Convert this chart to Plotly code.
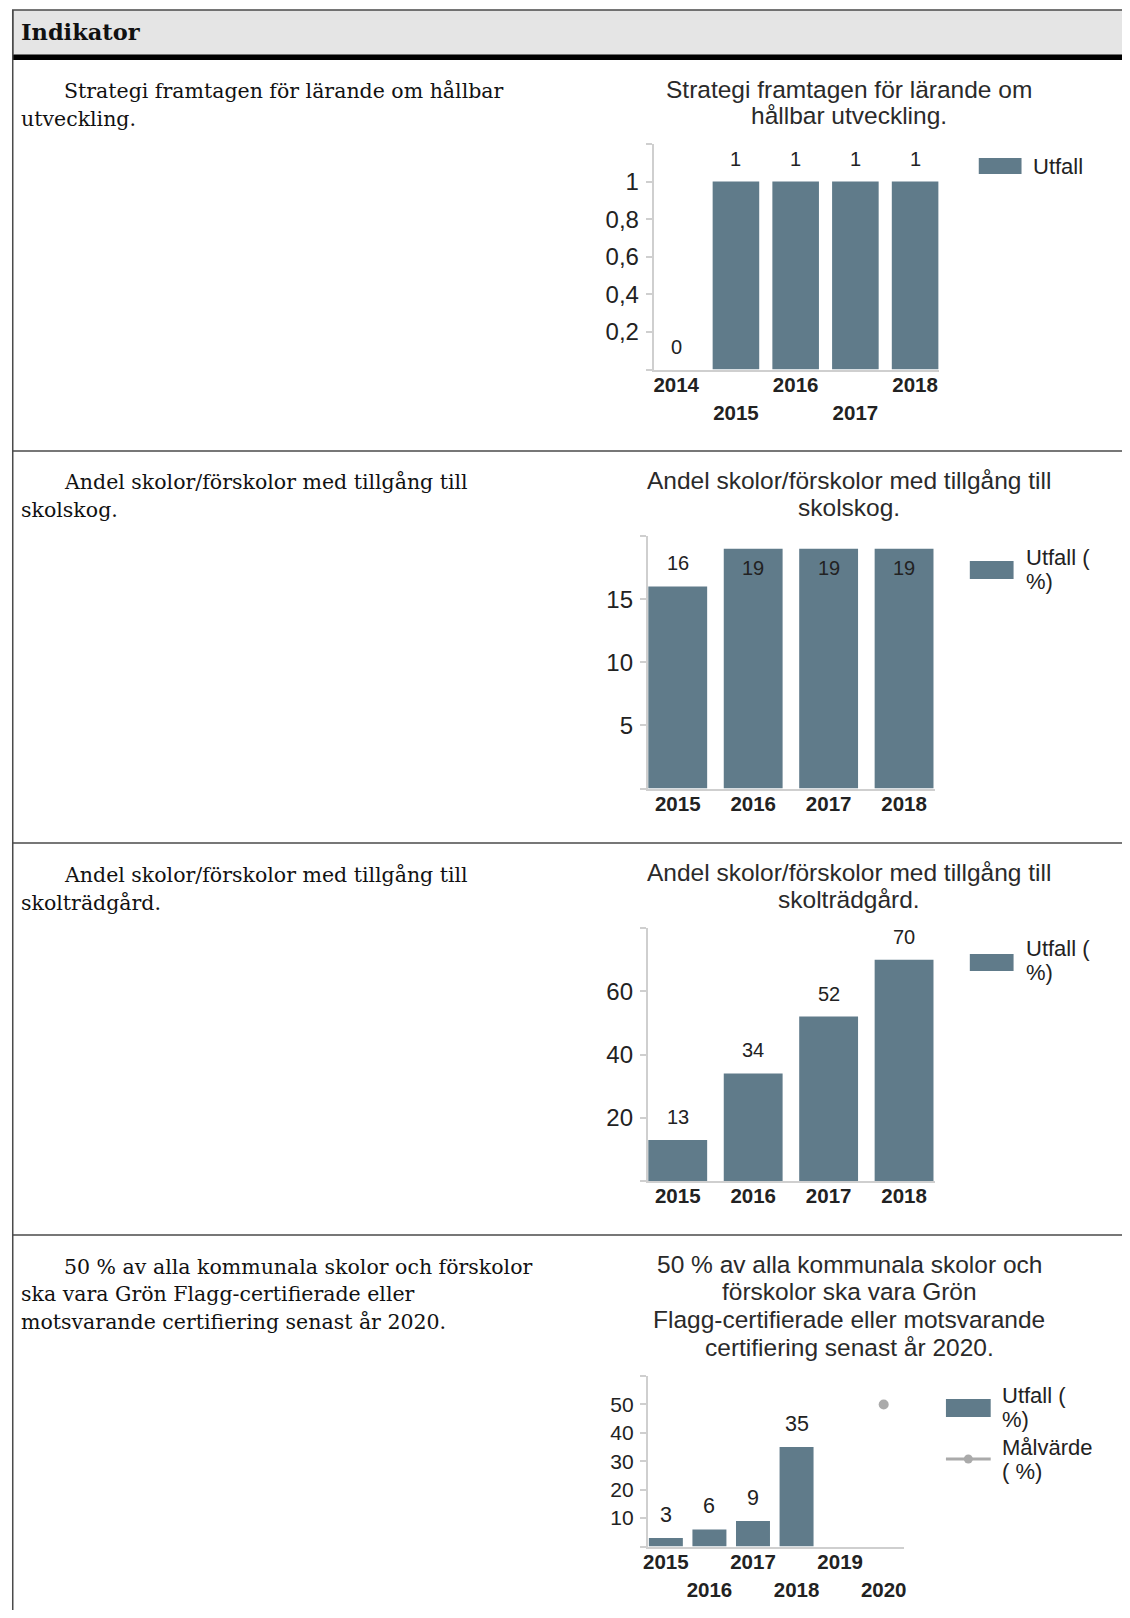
import plotly.graph_objects as go

# The page body has an 8px margin; the figure is sized so the page does not overflow.
PAGE_W, PAGE_H = 1130, 1618
OX, OY = 8, 8
W, H = PAGE_W - 2 * OX, PAGE_H - 2 * OY

BAR = "#607b8a"
GOAL = "#aaaaaa"
AXIS = "#cfcfcf"
TXT = "#222222"
TITLE = "#2a2a2a"
SANS = "Liberation Sans"
SERIF = "DejaVu Serif"


def px(x):
    return (x - OX) / W


def py(y):
    return 1 - (y - OY) / H


# ---------------- data ----------------
years_1 = [2014, 2015, 2016, 2017, 2018]
utfall_1 = [0, 1, 1, 1, 1]

years_2 = [2015, 2016, 2017, 2018]
utfall_2 = [16, 19, 19, 19]

years_3 = [2015, 2016, 2017, 2018]
utfall_3 = [13, 34, 52, 70]

years_4 = [2015, 2016, 2017, 2018, 2019, 2020]
utfall_4 = [3, 6, 9, 35, None, None]
malvarde_4 = [None, None, None, None, None, 50]

ytick_vals_1 = [0, 0.2, 0.4, 0.6, 0.8, 1, 1.2]
ytick_text_1 = ["", "0,2", "0,4", "0,6", "0,8", "1", ""]
ytick_vals_2 = [0, 5, 10, 15, 20]
ytick_text_2 = ["", "5", "10", "15", ""]
ytick_vals_3 = [0, 20, 40, 60, 80]
ytick_text_3 = ["", "20", "40", "60", ""]
ytick_vals_4 = [0, 10, 20, 30, 40, 50, 60]
ytick_text_4 = ["", "10", "20", "30", "40", "50", ""]

chart_titles = [
    ["Strategi framtagen för lärande om", "hållbar utveckling."],
    ["Andel skolor/förskolor med tillgång till", "skolskog."],
    ["Andel skolor/förskolor med tillgång till", "skolträdgård."],
    ["50 % av alla kommunala skolor och", "förskolor ska vara Grön",
     "Flagg-certifierade eller motsvarande", "certifiering senast år 2020."],
]
row_lines = [
    ["Strategi framtagen för lärande om hållbar", "utveckling."],
    ["Andel skolor/förskolor med tillgång till", "skolskog."],
    ["Andel skolor/förskolor med tillgång till", "skolträdgård."],
    ["50 % av alla kommunala skolor och förskolor",
     "ska vara Grön Flagg-certifierade eller",
     "motsvarande certifiering senast år 2020."],
]
header_text = "Indikator"
legend_utfall = [["Utfall"], ["Utfall (", "%)"], ["Utfall (", "%)"], ["Utfall (", "%)"]]
legend_mal = ["Målvärde", "( %)"]

# ---------------- geometry (page pixels) ----------------
charts = [
    dict(years=years_1, vals=utfall_1, yv=ytick_vals_1, yt=ytick_text_1,
         x0=653, x1=940, ytop=144, ybot=369.5, xr=[2013.62, 2018.4], yr=[0, 1.2],
         stagger=True, yfs=24, lfs=20, title_y=[89, 115], row_y=[91, 119]),
    dict(years=years_2, vals=utfall_2, yv=ytick_vals_2, yt=ytick_text_2,
         x0=647, x1=936, ytop=536, ybot=788.5, xr=[2014.6, 2018.41], yr=[0, 20],
         stagger=False, yfs=24, lfs=20, title_y=[481, 507], row_y=[482, 510]),
    dict(years=years_3, vals=utfall_3, yv=ytick_vals_3, yt=ytick_text_3,
         x0=647, x1=936, ytop=928, ybot=1181, xr=[2014.6, 2018.41], yr=[0, 80],
         stagger=False, yfs=24, lfs=20, title_y=[872, 899], row_y=[875, 903]),
    dict(years=years_4, vals=utfall_4, yv=ytick_vals_4, yt=ytick_text_4,
         x0=647, x1=905, ytop=1376, ybot=1546.5, xr=[2014.58, 2020.47], yr=[0, 60],
         stagger=True, yfs=21, lfs=21.5, title_y=[1264, 1291, 1319, 1347],
         row_y=[1267, 1294, 1322]),
]

fig = go.Figure()
layout = dict(
    width=W, height=H,
    margin=dict(l=0, r=0, t=0, b=0),
    paper_bgcolor="white", plot_bgcolor="rgba(0,0,0,0)",
    showlegend=False, bargap=0.22,
    font=dict(family=SANS, color=TXT),
)
shapes = []
annotations = []


def text_at(x, y, s, size, family=SANS, anchor="left", color=TXT):
    annotations.append(dict(
        x=px(x), y=py(y), xref="paper", yref="paper", text=s, showarrow=False,
        xanchor=anchor, yanchor="middle", font=dict(family=family, size=size, color=color),
    ))


extra_axis = 5
for k, c in enumerate(charts, start=1):
    sfx = "" if k == 1 else str(k)
    xname, yname = f"x{sfx}", f"y{sfx}"
    ymax = c["yr"][1]
    fig.add_trace(go.Bar(
        x=c["years"], y=c["vals"], name="Utfall", xaxis=xname, yaxis=yname,
        marker=dict(color=BAR, line=dict(width=0)), hoverinfo="x+y",
    ))
    if k == 4:
        fig.add_trace(go.Scatter(
            x=c["years"], y=malvarde_4, name="Målvärde", xaxis=xname, yaxis=yname,
            mode="lines+markers", line=dict(color=GOAL, width=3),
            marker=dict(color=GOAL, size=10), cliponaxis=False,
        ))

    # value labels, positioned through the chart's own axes
    for yr_, v in zip(c["years"], c["vals"]):
        if v is None:
            continue
        inside = (ymax - v) / ymax < 0.1
        annotations.append(dict(
            x=yr_, y=v, xref=xname, yref=yname, text=str(v), showarrow=False,
            xanchor="center", yanchor="middle", yshift=-19 if inside else 23,
            font=dict(family=SANS, size=c["lfs"], color=TXT),
        ))

    tickfont_x = dict(family=SANS, size=20.5, color=TXT, weight="bold")
    if c["stagger"]:
        main_ticks = c["years"][0::2]
        odd_ticks = c["years"][1::2]
    else:
        main_ticks = c["years"]
        odd_ticks = []
    layout[f"xaxis{sfx}"] = dict(
        domain=[px(c["x0"]), px(c["x1"])], range=c["xr"], anchor=yname,
        showline=True, linecolor=AXIS, linewidth=1.5, ticks="",
        tickvals=main_ticks, ticktext=[str(t) for t in main_ticks],
        tickfont=tickfont_x, showgrid=False, zeroline=False, fixedrange=True,
        ticklabelstandoff=-4,
    )
    layout[f"yaxis{sfx}"] = dict(
        domain=[py(c["ybot"]), py(c["ytop"])], range=c["yr"], anchor=xname,
        showline=True, linecolor=AXIS, linewidth=1.5,
        ticks="outside", ticklen=6, tickwidth=1.5, tickcolor=AXIS,
        tickvals=c["yv"], ticktext=c["yt"],
        tickfont=dict(family=SANS, size=c["yfs"], color=TXT),
        showgrid=False, zeroline=False, fixedrange=True, ticklabelstandoff=2,
    )
    if odd_ticks:
        layout[f"xaxis{extra_axis}"] = dict(
            overlaying=xname, anchor=yname, range=c["xr"], side="bottom",
            showline=False, ticks="", tickvals=odd_ticks,
            ticktext=[str(t) for t in odd_ticks], tickfont=tickfont_x,
            showgrid=False, zeroline=False, fixedrange=True,
            ticklabelstandoff=29,
        )
        fig.add_trace(go.Scatter(x=[], y=[], xaxis=f"x{extra_axis}", yaxis=yname,
                                 showlegend=False, hoverinfo="skip"))
        extra_axis += 1

    # chart title, one annotation per line
    for line, ty in zip(chart_titles[k - 1], c["title_y"]):
        text_at(850, ty, line, 24.5, anchor="center", color=TITLE)

    # left column text
    for i, (line, ly) in enumerate(zip(row_lines[k - 1], c["row_y"])):
        text_at(58 if i == 0 else 15, ly, line, 20.5, family=SERIF, color="#111111")

# ---------------- manual legends ----------------
legend_geo = [
    dict(sx0=980, sx1=1023, sy0=158, sy1=174, tx=1033, ty=[166]),
    dict(sx0=971, sx1=1015, sy0=561, sy1=579, tx=1025, ty=[557, 581]),
    dict(sx0=971, sx1=1015, sy0=954, sy1=971, tx=1025, ty=[948, 972]),
    dict(sx0=947, sx1=992, sy0=1399, sy1=1417, tx=1001, ty=[1395, 1419]),
]
for k, g in enumerate(legend_geo):
    shapes.append(dict(type="rect", xref="paper", yref="paper",
                       x0=px(g["sx0"]), x1=px(g["sx1"]), y0=py(g["sy1"]), y1=py(g["sy0"]),
                       fillcolor=BAR, line=dict(width=0)))
    for line, ty in zip(legend_utfall[k], g["ty"]):
        text_at(g["tx"], ty, line, 22)
shapes.append(dict(type="line", xref="paper", yref="paper",
                   x0=px(947), x1=px(992), y0=py(1459), y1=py(1459),
                   line=dict(color=GOAL, width=3)))
shapes.append(dict(type="circle", xref="paper", yref="paper",
                   x0=px(965), x1=px(974), y0=py(1463.5), y1=py(1454.5),
                   fillcolor=GOAL, line=dict(width=0)))
for line, ty in zip(legend_mal, [1447, 1471]):
    text_at(1001, ty, line, 22)

# ---------------- table frame ----------------
BORDER = "#4a4a4a"
LEFT = 8.75
shapes.append(dict(type="rect", xref="paper", yref="paper", layer="below",
                   x0=px(LEFT), x1=px(1150), y0=py(55), y1=py(10),
                   fillcolor="#e5e5e5", line=dict(color=BORDER, width=1.5)))
shapes.append(dict(type="rect", xref="paper", yref="paper", layer="below",
                   x0=px(LEFT), x1=px(1150), y0=py(60), y1=py(55),
                   fillcolor="#000000", line=dict(width=0)))
shapes.append(dict(type="line", xref="paper", yref="paper", layer="below",
                   x0=px(LEFT), x1=px(LEFT), y0=py(10), y1=py(1640),
                   line=dict(color=BORDER, width=1.5)))
for ry in [451, 843, 1235]:
    shapes.append(dict(type="line", xref="paper", yref="paper", layer="below",
                       x0=px(LEFT), x1=px(1150), y0=py(ry), y1=py(ry),
                       line=dict(color=BORDER, width=1.5)))
text_at(15, 32, f"<b>{header_text}</b>", 22.5, family=SERIF, color="#111111")

layout["shapes"] = shapes
layout["annotations"] = annotations
fig.update_layout(**layout)
fig.write_html("out.html")
